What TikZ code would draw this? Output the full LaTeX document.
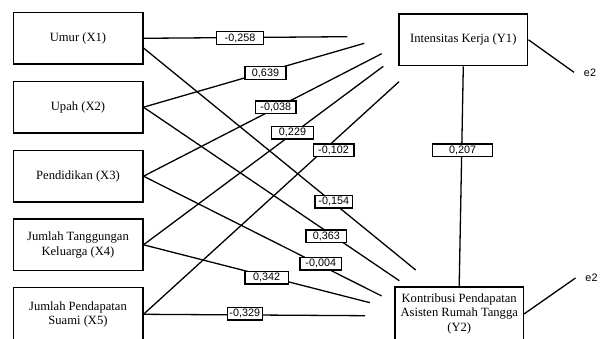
\documentclass[tikz,border=0pt]{standalone}
\usepackage{fontspec}
\setmainfont{Liberation Serif}
\newfontfamily\lblfont{Liberation Sans}
\begin{document}
\begin{tikzpicture}[x=1pt,y=-1pt,
  box/.style={draw,line width=1.6pt,minimum width=129.4pt,minimum height=51.3pt,align=center,
    font=\fontsize{12.6}{14.4}\selectfont,inner sep=0pt},
  lbl/.style={draw,fill=white,line width=1.3pt,font=\lblfont\fontsize{10.8}{12}\selectfont,
    minimum height=12.7pt,inner sep=0pt},
  errlbl/.style={font=\lblfont\fontsize{10.8}{12}\selectfont,inner ysep=2pt,inner xsep=9.8pt},
  conn/.style={line width=1.3pt}]
\useasboundingbox (0,0) rectangle (600,339);
% boxes
\node[box] (x1) at (78,38.3) {Umur (X1)};
\node[box] (x2) at (78,107.2) {Upah (X2)};
\node[box] (x3) at (78,176.2) {Pendidikan (X3)};
\node[box] (x4) at (78,244.8) {Jumlah Tanggungan\\Keluarga (X4)};
\node[box,minimum height=53.3pt] (x5) at (78,314.3) {Jumlah Pendapatan\\Suami (X5)};
\node[box,minimum width=128.7pt,minimum height=51.7pt] (y1) at (463.3,39.8) {Intensitas Kerja (Y1)};
\node[box,minimum width=128.3pt,minimum height=54.3pt] (y2) at (459.2,313.9) {Kontribusi Pendapatan\\Asisten Rumah Tangga\\(Y2)};
\node[errlbl] (e2a) at (590,72.3) {e2};
\node[errlbl] (e2b) at (591.5,278) {e2};
% free ends
\coordinate (a1) at (347.3,36.7);
\coordinate (a2) at (364.3,43.3);
\coordinate (a3) at (381.7,53.7);
\coordinate (a4) at (383.3,66.3);
\coordinate (a5) at (399,81.7);
\coordinate (b1) at (415.7,270);
\coordinate (b2) at (399.3,280.7);
\coordinate (b3) at (381.7,296);
\coordinate (b4) at (370,302.7);
\coordinate (b5) at (365,315.7);
% connectors
\draw[conn] (x1.east) -- (a1);
\draw[conn] (x2.east) -- (a2);
\draw[conn] (x3.east) -- (a3);
\draw[conn] (x4.east) -- (a4);
\draw[conn] (x5.east) -- (a5);
\draw[conn] ([yshift=-9.7pt]x1.east) -- (b1);
\draw[conn] (x2.east) -- (b2);
\draw[conn] (x3.east) -- (b3);
\draw[conn] (x4.east) -- (b4);
\draw[conn] (x5.east) -- (b5);
\draw[conn] (y1.south) -- (y2.north);
\draw[conn] (y1.east) -- (e2a.west);
\draw[conn] (y2.east) -- (e2b.west);
% labels
\node[lbl,minimum width=46.7pt] (l1) at (240,38.2) {-0,258};
\node[lbl,minimum width=41pt] (l2) at (265.5,73) {0,639};
\node[lbl,minimum width=40.3pt] (l3) at (275.8,107.5) {-0,038};
\node[lbl,minimum width=41.6pt] (l4) at (292.5,132.7) {0,229};
\node[lbl,minimum width=40.7pt] (l5) at (333.5,150.4) {-0,102};
\node[lbl,minimum width=37.7pt] (l6) at (333.8,201.7) {-0,154};
\node[lbl,minimum width=40.7pt] (l7) at (326.3,236.3) {0,363};
\node[lbl,minimum width=41.7pt] (l8) at (320.8,263.7) {-0,004};
\node[lbl,minimum width=43.3pt] (l9) at (266.7,277.8) {0,342};
\node[lbl,minimum width=35pt] (l10) at (244.8,313.7) {-0,329};
\node[lbl,minimum width=60pt] (l11) at (462.7,150.3) {0,207};
\end{tikzpicture}
\end{document}
